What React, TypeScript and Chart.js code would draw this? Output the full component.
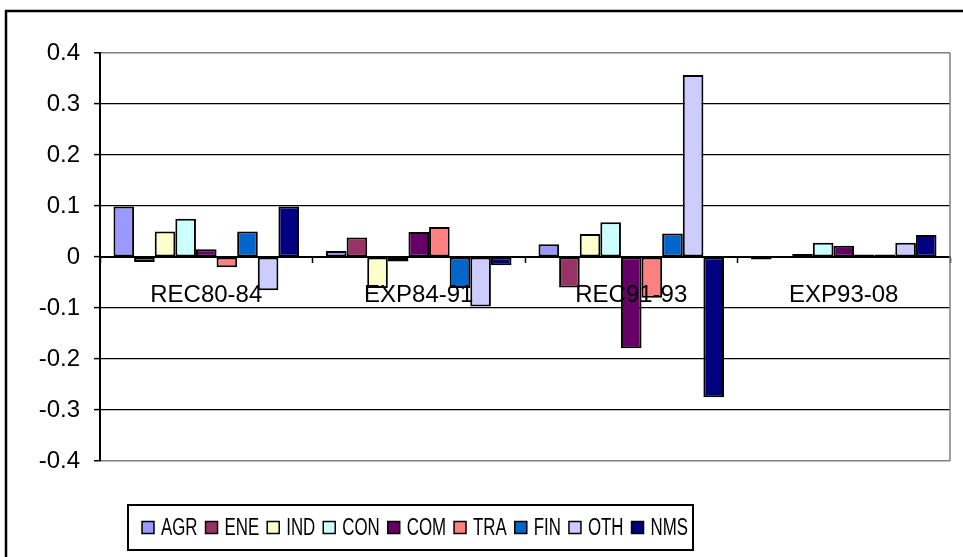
import React, { useEffect, useRef } from "react";
import { Chart, registerables } from "chart.js";

Chart.register(...registerables);

const categories = ["REC80-84", "EXP84-91", "REC91-93", "EXP93-08"];
const seriesNames = ["AGR", "ENE", "IND", "CON", "COM", "TRA", "FIN", "OTH", "NMS"];

const AGR = [0.099, 0.012, 0.025, -0.005];
const ENE = [-0.01, 0.038, -0.06, 0.0];
const IND = [0.05, -0.061, 0.045, 0.006];
const CON = [0.075, -0.009, 0.068, 0.028];
const COM = [0.015, 0.049, -0.179, 0.022];
const TRA = [-0.02, 0.059, -0.08, 0.005];
const FIN = [0.05, -0.061, 0.046, 0.005];
const OTH = [-0.065, -0.097, 0.357, 0.028];
const NMS = [0.099, -0.016, -0.275, 0.043];

const seriesValues = [AGR, ENE, IND, CON, COM, TRA, FIN, OTH, NMS];
const seriesColors = ["#9999FF", "#993366", "#FFFFCC", "#CCFFFF", "#660066", "#FF8080", "#0066CC", "#CCCCFF", "#000080"];

const yTickLabels = ["-0.4", "-0.3", "-0.2", "-0.1", "0", "0.1", "0.2", "0.3", "0.4"];
const yMin = -0.4;
const yMax = 0.4;
const yStep = 0.1;

const FONT = '"Liberation Sans", Arial, Helvetica, sans-serif';

const framePlugin = {
  id: "frame",
  beforeDraw(chart: any) {
    const ctx = chart.ctx;
    ctx.save();
    ctx.fillStyle = "#ffffff";
    ctx.fillRect(0, 0, chart.width, chart.height);
    ctx.strokeStyle = "#000000";
    ctx.lineWidth = 2.5;
    ctx.strokeRect(6, 11, 2000, 2000);
    ctx.restore();
  },
  beforeDatasetsDraw(chart: any) {
    const { ctx, chartArea } = chart;
    ctx.save();
    ctx.strokeStyle = "#808080";
    ctx.lineWidth = 1.5;
    ctx.beginPath();
    ctx.moveTo(chartArea.right, chartArea.top);
    ctx.lineTo(chartArea.right, chartArea.bottom);
    ctx.stroke();
    ctx.restore();
  },
};

const boxLegendPlugin = {
  id: "boxLegend",
  afterDraw(chart: any) {
    const ctx = chart.ctx;
    const left = 128, right = 693, top = 505, bottom = 550;
    const sq = 12, gapST = 7, gapItem = 8;
    const contentStart = 142, contentEnd = 688;
    ctx.save();
    ctx.font = `23px ${FONT}`;
    const items = chart.data.datasets.map((ds: any) => ({ label: ds.label, color: ds.backgroundColor }));
    let textW = 0;
    items.forEach((it: any) => {
      textW += ctx.measureText(it.label).width;
    });
    const overhead = items.length * (sq + gapST) + (items.length - 1) * gapItem;
    const sx = Math.min(1, (contentEnd - contentStart - overhead) / textW);
    ctx.fillStyle = "#ffffff";
    ctx.fillRect(left, top, right - left, bottom - top);
    ctx.strokeStyle = "#000000";
    ctx.lineWidth = 2;
    ctx.strokeRect(left, top, right - left, bottom - top);
    let x = contentStart;
    const cy = (top + bottom) / 2;
    ctx.textBaseline = "middle";
    ctx.textAlign = "left";
    items.forEach((it: any) => {
      ctx.fillStyle = it.color;
      ctx.fillRect(x, cy - sq / 2, sq, sq);
      ctx.lineWidth = 1.5;
      ctx.strokeStyle = "#000000";
      ctx.strokeRect(x, cy - sq / 2, sq, sq);
      x += sq + gapST;
      ctx.fillStyle = "#000000";
      ctx.save();
      ctx.translate(x, cy + 1);
      ctx.scale(sx, 1);
      ctx.fillText(it.label, 0, 0);
      ctx.restore();
      x += ctx.measureText(it.label).width * sx + gapItem;
    });
    ctx.restore();
  },
};

export default function App() {
  const ref = useRef<HTMLCanvasElement | null>(null);

  useEffect(() => {
    if (!ref.current) return;
    const chart = new Chart(ref.current, {
      type: "bar",
      data: {
        labels: categories,
        datasets: seriesNames.map((name, i) => ({
          label: name,
          data: seriesValues[i],
          backgroundColor: seriesColors[i],
          borderColor: "#000000",
          borderWidth: 2,
          borderSkipped: false,
          barPercentage: 1,
          categoryPercentage: 0.873,
        })),
      },
      options: {
        responsive: false,
        animation: false,
        devicePixelRatio: 1,
        layout: { padding: { left: 5, right: 13, top: 53, bottom: 96 } },
        plugins: {
          legend: { display: false },
          tooltip: { enabled: false },
        },
        scales: {
          x: {
            type: "category",
            position: { y: 0 } as any,
            grid: {
              drawOnChartArea: false,
              offset: true,
              tickLength: 5,
              tickColor: "#000000",
              tickWidth: 1.5,
            },
            border: { color: "#000000", width: 2 },
            ticks: {
              z: 1,
              color: "#000000",
              font: { family: FONT, size: 24 },
              padding: 19,
              maxRotation: 0,
              autoSkip: false,
            },
          },
          y: {
            min: yMin,
            max: yMax,
            afterFit: (s: any) => {
              s.width = 95;
            },
            ticks: {
              stepSize: yStep,
              color: "#000000",
              font: { family: FONT, size: 24 },
              padding: 14,
              callback: (_v: any, i: number) => yTickLabels[i],
            },
            grid: {
              color: (c: any) => (c.index === 0 || c.index === yTickLabels.length - 1 ? "#808080" : "#000000"),
              lineWidth: (c: any) => (c.index === 0 || c.index === yTickLabels.length - 1 ? 1.5 : 1.2),
              tickLength: 6,
              tickColor: "#000000",
              tickWidth: 1.5,
            },
            border: { color: "#000000", width: 2 },
          },
        },
      },
      plugins: [framePlugin, boxLegendPlugin],
    });
    return () => chart.destroy();
  }, []);

  return (
    <canvas
      ref={ref}
      width={963}
      height={557}
      style={{ position: "absolute", left: 0, top: 0, display: "block", width: 963, height: 557 }}
    />
  );
}
